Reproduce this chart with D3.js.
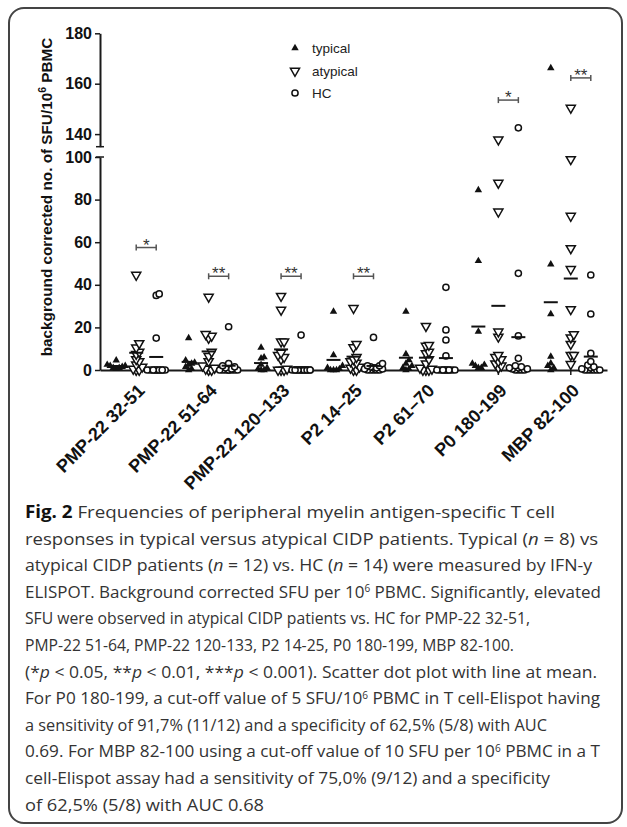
<!DOCTYPE html>
<html>
<head>
<meta charset="utf-8">
<script src="https://cdn.jsdelivr.net/npm/d3@7"></script>
<style>
body { margin: 0; background: #fff; }
svg { display: block; font-family: "Liberation Sans", Arial, sans-serif; }
.axis path, .axis line { stroke: #1a1a1a; }
.axis path { stroke-width: 2; }
.axis line { stroke-width: 1.5; }
.axis text { fill: #111; font-weight: bold; }
</style>
</head>
<body>
<svg id="svg1" width="627" height="827"></svg>
<script>
// peptide groups along the x axis
var categories = ["PMP-22 32-51", "PMP-22 51-64", "PMP-22 120\u2013133", "P2 14\u201325", "P2 61\u201370", "P0 180-199", "MBP 82-100"];
var groups = ["typical", "atypical", "HC"];

// background corrected SFU/10^6 PBMC
var typical = [
  [4.5, 2.5, 2, 2, 1.5, 1, 1, 0.5],
  [15, 4.5, 3.5, 3, 2.5, 1.5, 0.5, 0],
  [10.5, 6, 5.5, 2.5, 1, 0.5, 0, 0],
  [27.4, 7, 2, 1, 0.5, 0, 0, 0],
  [27.4, 7.5, 4.7, 3, 2, 1, 0.5, 0],
  [84.5, 51.2, 18, 3, 2.5, 2, 1, 1],
  [166.2, 49.6, 26.3, 6.3, 3.1, 2, 1, 0]
];
var atypical = [
  [44.6, 12.5, 10.5, 8.5, 7.5, 5, 4, 2.5, 1.5, 0.5, 0, 0],
  [34.3, 16.8, 16, 15, 8.5, 6.5, 4, 2, 1, 0.5, 0, 0],
  [34.7, 28.2, 13.3, 13.3, 8, 7, 6, 5, 0.5, 0, 0, 0],
  [29, 12.2, 10.6, 6, 5, 4, 3.4, 2.5, 1.5, 1, 0, 0],
  [20.6, 11.7, 11.3, 8.5, 7.8, 5, 3, 1, 0.5, 0, 0, 0],
  [137.8, 87.8, 74.3, 18, 15.6, 7, 6, 5, 4, 3, 2, 1],
  [150.4, 98.9, 72.3, 57.1, 47.3, 28.5, 16.7, 15.2, 12.2, 7, 7, 2.7]
];
var hc = [
  [35.7, 35, 15, 0, 0, 0, 0, 0, 0, 0, 0, 0, 0, 0],
  [20.3, 3, 2, 1.5, 1, 0.5, 0, 0, 0, 0, 0, 0, 0, 0],
  [16.4, 0, 0, 0, 0, 0, 0, 0, 0, 0, 0, 0, 0, 0],
  [15.3, 3, 2, 2, 1.5, 1, 1, 0.5, 0.5, 0, 0, 0, 0, 0],
  [38.8, 18.8, 14.1, 6.6, 0, 0, 0, 0, 0, 0, 0, 0, 0, 0],
  [142.5, 45.4, 16, 5.5, 2, 1.5, 1, 1, 0.5, 0.5, 0, 0, 0, 0],
  [44.6, 26.3, 7.8, 4, 2.3, 1.5, 1, 0.5, 0, 0, 0, 0, 0, 0]
];

// atypical vs HC significance brackets
var sigMarks = ["*", "**", "**", "**", "", "*", "**"];
var sigValues = [57.5, 44, 44, 44, null, 153.5, 162.3];

var yTicksLow = [0, 20, 40, 60, 80, 100];
var yTicksHigh = [140, 160, 180];

var caption = [
  "[b]Fig. 2[/b] Frequencies of peripheral myelin antigen-specific T cell",
  "responses in typical versus atypical CIDP patients. Typical ([i]n[/i] = 8) vs",
  "atypical CIDP patients ([i]n[/i] = 12) vs. HC ([i]n[/i] = 14) were measured by IFN-y",
  "ELISPOT. Background corrected SFU per 10[s]6[/s] PBMC. Significantly, elevated",
  "SFU were observed in atypical CIDP patients vs. HC for PMP-22 32-51,",
  "PMP-22 51-64, PMP-22 120-133, P2 14-25, P0 180-199, MBP 82-100.",
  "(*[i]p[/i] < 0.05, **[i]p[/i] < 0.01, ***[i]p[/i] < 0.001). Scatter dot plot with line at mean.",
  "For P0 180-199, a cut-off value of 5 SFU/10[s]6[/s] PBMC in T cell-Elispot having",
  "a sensitivity of 91,7% (11/12) and a specificity of 62,5% (5/8) with AUC",
  "0.69. For MBP 82-100 using a cut-off value of 10 SFU per 10[s]6[/s] PBMC in a T",
  "cell-Elispot assay had a sensitivity of 75,0% (9/12) and a specificity",
  "of 62,5% (5/8) with AUC 0.68"
];
// where each caption line ends in the figure (ragged right)
var captionEnds = [555, 598, 592, 601, 530, 514, 597, 600, 547, 600, 550, 264];

var svg = d3.select('#svg1');

// frame
svg.append('rect')
  .attr('x', 9).attr('y', 8)
  .attr('width', 613).attr('height', 815)
  .attr('rx', 15)
  .attr('fill', 'none')
  .attr('stroke', '#444')
  .attr('stroke-width', 2);

var scaleX = d3.scaleBand().domain(categories).range([100, 607]);
var scaleSub = d3.scalePoint().domain(groups).range([-20, 20]);
var yLow = d3.scaleLinear().domain([0, 100]).range([370, 157]);
var yHigh = d3.scaleLinear().domain([135, 180]).range([146.7, 33.3]);
function scaleY(v) { return v <= 100 ? yLow(v) : yHigh(v); }
function colX(i, g) { return scaleX(categories[i]) + scaleX.bandwidth() / 2 + scaleSub(g); }

// y axis, two segments
svg.append('g')
  .attr('class', 'axis')
  .attr('transform', 'translate(100,0)')
  .call(d3.axisLeft(yLow).tickValues(yTicksLow).tickSize(5).tickSizeOuter(0))
  .selectAll('text').style('font-size', '16px');

svg.append('g')
  .attr('class', 'axis')
  .attr('transform', 'translate(100,0)')
  .call(d3.axisLeft(yHigh).tickValues(yTicksHigh).tickSize(5).tickSizeOuter(0))
  .selectAll('text').style('font-size', '16px');

// break caps
[yHigh(135), yLow(100)].forEach(function(v) {
  svg.append('line')
    .attr('x1', 96).attr('x2', 104)
    .attr('y1', v).attr('y2', v)
    .attr('stroke', '#1a1a1a').attr('stroke-width', 1.5);
});

// x axis
var xAxis = svg.append('g')
  .attr('class', 'axis')
  .attr('transform', 'translate(0,' + yLow(0) + ')')
  .call(d3.axisBottom(scaleX).tickSize(5).tickSizeOuter(0));

xAxis.selectAll('text')
  .style('font-size', '18px')
  .attr('text-anchor', 'end')
  .attr('x', -8.5)
  .attr('y', 22)
  .attr('dy', 0)
  .attr('transform', 'rotate(-45)');

// y title
svg.append('text')
  .attr('transform', 'translate(52,197) rotate(-90)')
  .attr('text-anchor', 'middle')
  .style('font-size', '15.3px')
  .style('font-weight', 'bold')
  .attr('fill', '#111')
  .text('background corrected no. of SFU/10')
  .call(function(t) {
    t.append('tspan').attr('dy', -6).style('font-size', '10.5px').text('6');
    t.append('tspan').attr('dy', 6).text(' PBMC');
  });

// symbols
var symUp = d3.symbol().type(d3.symbolTriangle).size(24);
var symDown = d3.symbol().type(d3.symbolTriangle).size(36);
var symCircle = d3.symbol().type(d3.symbolCircle).size(30);

function drawMark(sel, g) {
  if (g === 'typical') {
    sel.attr('d', symUp()).attr('fill', '#111');
  } else if (g === 'atypical') {
    sel.attr('d', symDown()).attr('fill', '#fff').attr('stroke', '#111').attr('stroke-width', 1.5);
  } else {
    sel.attr('d', symCircle()).attr('fill', '#fff').attr('stroke', '#111').attr('stroke-width', 1.5);
  }
}

// spread points sharing a value sideways, like a column scatter
function spread(vals) {
  var placed = [];
  var cands = [0, 3, -3, 6, -6, 9, -9];
  return vals.slice().sort(d3.ascending).map(function(v) {
    var py = scaleY(v), best = 0, bestHits = 1e9;
    for (var k = 0; k < cands.length; k++) {
      var hits = placed.filter(function(p) {
        return Math.abs(p.dx - cands[k]) < 2.9 && Math.abs(p.py - py) < 5;
      }).length;
      if (hits < bestHits) { bestHits = hits; best = cands[k]; if (hits === 0) break; }
    }
    var p = { value: v, dx: best, py: py };
    placed.push(p);
    return p;
  });
}

var series = { typical: typical, atypical: atypical, HC: hc };

categories.forEach(function(cat, i) {
  groups.forEach(function(g) {
    var vals = series[g][i];
    var cx = colX(i, g);
    var pts = spread(vals);

    svg.selectAll('.pt-' + i + '-' + g)
      .data(pts)
      .enter()
      .append('path')
      .attr('class', 'pt-' + i + '-' + g)
      .attr('transform', function(d) {
        return 'translate(' + (cx + d.dx) + ',' + scaleY(d.value) + ')' + (g === 'atypical' ? ' rotate(180)' : '');
      })
      .call(drawMark, g);

    var m = d3.mean(vals);
    svg.append('line')
      .attr('x1', cx - 7).attr('x2', cx + 7)
      .attr('y1', scaleY(m)).attr('y2', scaleY(m))
      .attr('stroke', '#111').attr('stroke-width', 2);
  });

  if (sigValues[i] !== null) {
    var x1 = colX(i, 'atypical'), x2 = colX(i, 'HC'), yy = scaleY(sigValues[i]);
    var br = svg.append('g').attr('stroke', '#555').attr('stroke-width', 1.5);
    br.append('line').attr('x1', x1).attr('x2', x2).attr('y1', yy).attr('y2', yy);
    br.append('line').attr('x1', x1).attr('x2', x1).attr('y1', yy - 3).attr('y2', yy + 3);
    br.append('line').attr('x1', x2).attr('x2', x2).attr('y1', yy - 3).attr('y2', yy + 3);
    svg.append('text')
      .attr('x', (x1 + x2) / 2)
      .attr('y', yy + 3)
      .attr('text-anchor', 'middle')
      .style('font-size', '17px')
      .attr('fill', '#333')
      .text(sigMarks[i]);
  }
});

// legend
var legendRows = [48, 71, 93];
groups.forEach(function(g, k) {
  svg.append('path')
    .attr('transform', 'translate(295,' + legendRows[k] + ')' + (g === 'atypical' ? ' rotate(180)' : ''))
    .call(drawMark, g);
  svg.append('text')
    .attr('x', 312)
    .attr('y', legendRows[k] + 5)
    .style('font-size', '13.5px')
    .attr('fill', '#222')
    .text(g);
});

// caption
var cap = svg.append('g')
  .style('font-family', '"Open Sans", sans-serif')
  .style('font-size', '17px')
  .attr('fill', '#333');

caption.forEach(function(line, k) {
  var t = cap.append('text')
    .attr('x', 25)
    .attr('y', 518 + k * 26.6)
    .attr('textLength', captionEnds[k] - 25)
    .attr('lengthAdjust', 'spacingAndGlyphs');
  var parts = line.split(/(\[b\].*?\[\/b\]|\[i\].*?\[\/i\]|\[s\].*?\[\/s\])/);
  var shift = 0;
  parts.forEach(function(p) {
    if (!p) return;
    var s = t.append('tspan');
    if (shift) { s.attr('dy', shift); shift = 0; }
    if (p.indexOf('[b]') === 0) {
      s.style('font-weight', 'bold').attr('fill', '#111').text(p.slice(3, -4));
    } else if (p.indexOf('[i]') === 0) {
      s.style('font-style', 'italic').text(p.slice(3, -4));
    } else if (p.indexOf('[s]') === 0) {
      s.attr('dy', -5.5).style('font-size', '10px').text(p.slice(3, -4));
      shift = 5.5;
    } else {
      s.text(p);
    }
  });
});
</script>
</body>
</html>
